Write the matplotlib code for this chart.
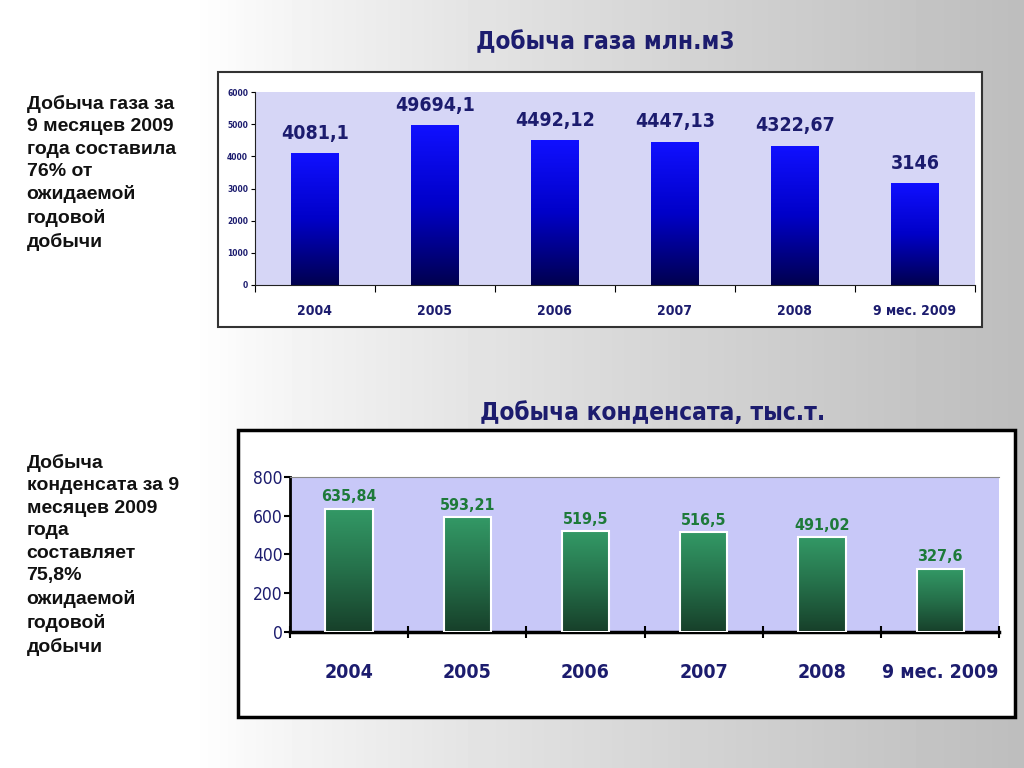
import numpy as np
import matplotlib
matplotlib.use('Agg')
import matplotlib.pyplot as plt
from matplotlib.colors import LinearSegmentedColormap
from matplotlib.patches import Rectangle

# data
categories = ['2004', '2005', '2006', '2007', '2008', '9 мес. 2009']
gas = [4081.1, 4969.41, 4492.12, 4447.13, 4322.67, 3146]
gas_labels = ['4081,1', '49694,1', '4492,12', '4447,13', '4322,67', '3146']
cond = [635.84, 593.21, 519.5, 516.5, 491.02, 327.6]
cond_labels = ['635,84', '593,21', '519,5', '516,5', '491,02', '327,6']

narrow_props = dict(family='DejaVu Sans', stretch='condensed')
arial = ['Liberation Sans', 'DejaVu Sans']
navy = '#1c1c6e'

fig = plt.figure(figsize=(10.24, 7.68), dpi=100)

# background gradient
bg = fig.add_axes([0, 0, 1, 1])
grad = np.linspace(0.99, 0.74, 256)
grad = np.clip(grad + 0.12 * np.exp(-np.linspace(0, 1, 256) * 4), 0, 1)
bg.imshow(np.tile(grad, (10, 1)), cmap='gray', vmin=0, vmax=1, aspect='auto',
          extent=[0, 1, 0, 1], zorder=0)
bg.set_xlim(0, 1)
bg.set_ylim(0, 1)
bg.axis('off')

# page number, partly hidden by the box
bg.text(0.934, 0.071, '6', fontsize=13, color='black', ha='center', va='center',
        family=arial, zorder=1)

# white boxes
bg.add_patch(Rectangle((0.213, 0.574), 0.746, 0.332, facecolor='white',
                       edgecolor='#333333', lw=1.5, zorder=2))
bg.add_patch(Rectangle((0.232, 0.066), 0.759, 0.374, facecolor='white',
                       edgecolor='black', lw=2.5, zorder=2))

# titles and side texts
fig.text(0.591, 0.945, 'Добыча газа млн.м3', fontsize=17.5, fontweight='bold',
         color=navy, ha='center', va='center', **narrow_props)
fig.text(0.637, 0.462, 'Добыча конденсата, тыс.т.', fontsize=17.5, fontweight='bold',
         color=navy, ha='center', va='center', **narrow_props)
fig.text(0.026, 0.876, 'Добыча газа за\n9 месяцев 2009\nгода составила\n76% от\nожидаемой\nгодовой\nдобычи',
         fontsize=14, fontweight='bold', color='#111111', ha='left', va='top',
         linespacing=1.4, family=arial)
fig.text(0.026, 0.409, 'Добыча\nконденсата за 9\nмесяцев 2009\nгода\nсоставляет\n75,8%\nожидаемой\nгодовой\nдобычи',
         fontsize=14, fontweight='bold', color='#111111', ha='left', va='top',
         linespacing=1.42, family=arial)

x = np.arange(len(categories))
blue_cmap = LinearSegmentedColormap.from_list('b', ['#000050', '#0000c8', '#1010ff'])
green_cmap = LinearSegmentedColormap.from_list('g', ['#17402a', '#25704a', '#339966'])


def gradient_bars(ax, vals, cmap, edge, lw):
    bars = ax.bar(x, vals, width=0.4, color='none', edgecolor=edge, lw=lw, zorder=3)
    for b in bars:
        x0, y0 = b.get_x(), b.get_y()
        ax.imshow(np.linspace(1, 0, 100).reshape(-1, 1), cmap=cmap, aspect='auto',
                  extent=[x0, x0 + b.get_width(), y0, y0 + b.get_height()], zorder=2)
    return bars


# top chart: gas
ax1 = fig.add_axes([0.249, 0.629, 0.703, 0.251])
ax1.set_facecolor('#d6d6f6')
gradient_bars(ax1, gas, blue_cmap, 'none', 0)
ax1.set_xlim(-0.5, 5.5)
ax1.set_ylim(0, 6000)
ax1.set_yticks(range(0, 6001, 1000))
for i, v in enumerate(gas):
    ax1.text(x[i], v + 330, gas_labels[i], ha='center', va='bottom', fontsize=14,
             fontweight='bold', color=navy, **narrow_props)
ax1.set_xticks(x)
ax1.set_xticklabels(categories, fontsize=10, fontweight='bold', color=navy, **narrow_props)
ax1.set_xticks(np.arange(-0.5, 6, 1), minor=True)
ax1.tick_params(axis='x', which='major', length=0, pad=14)
ax1.tick_params(axis='x', which='minor', length=5, direction='out', width=0.8)
ax1.tick_params(axis='y', length=3, width=0.8, labelsize=6, pad=2)
for t in ax1.get_yticklabels():
    t.set_fontweight('bold')
    t.set_color(navy)
    t.set_fontstretch('condensed')
for s in ['top', 'right']:
    ax1.spines[s].set_visible(False)
ax1.spines['left'].set_color('#222222')
ax1.spines['bottom'].set_color('#222222')

# bottom chart: condensate
ax2 = fig.add_axes([0.283, 0.177, 0.693, 0.202])
ax2.set_facecolor('#c8c8f8')
gradient_bars(ax2, cond, green_cmap, 'white', 1.5)
ax2.set_xlim(-0.5, 5.5)
ax2.set_ylim(0, 800)
ax2.set_yticks(range(0, 801, 200))
for i, v in enumerate(cond):
    ax2.text(x[i], v + 22, cond_labels[i], ha='center', va='bottom', fontsize=11.5,
             fontweight='bold', color='#1e7a3a', **narrow_props)
ax2.set_xticks(x)
ax2.set_xticklabels(categories, fontsize=14, fontweight='bold', color=navy, **narrow_props)
ax2.set_xticks(np.arange(-0.5, 6, 1), minor=True)
ax2.tick_params(axis='x', which='major', length=0, pad=22)
ax2.tick_params(axis='x', which='minor', length=9, direction='inout', width=1.5)
ax2.tick_params(axis='y', length=4, width=1.5, labelsize=12.5, pad=1, labelcolor=navy)
for t in ax2.get_yticklabels():
    t.set_fontstretch('condensed')
ax2.spines['right'].set_visible(False)
ax2.spines['top'].set_color('#888888')
ax2.spines['left'].set_linewidth(2)
ax2.spines['bottom'].set_linewidth(2.5)

fig.savefig('out.png', dpi=100)
